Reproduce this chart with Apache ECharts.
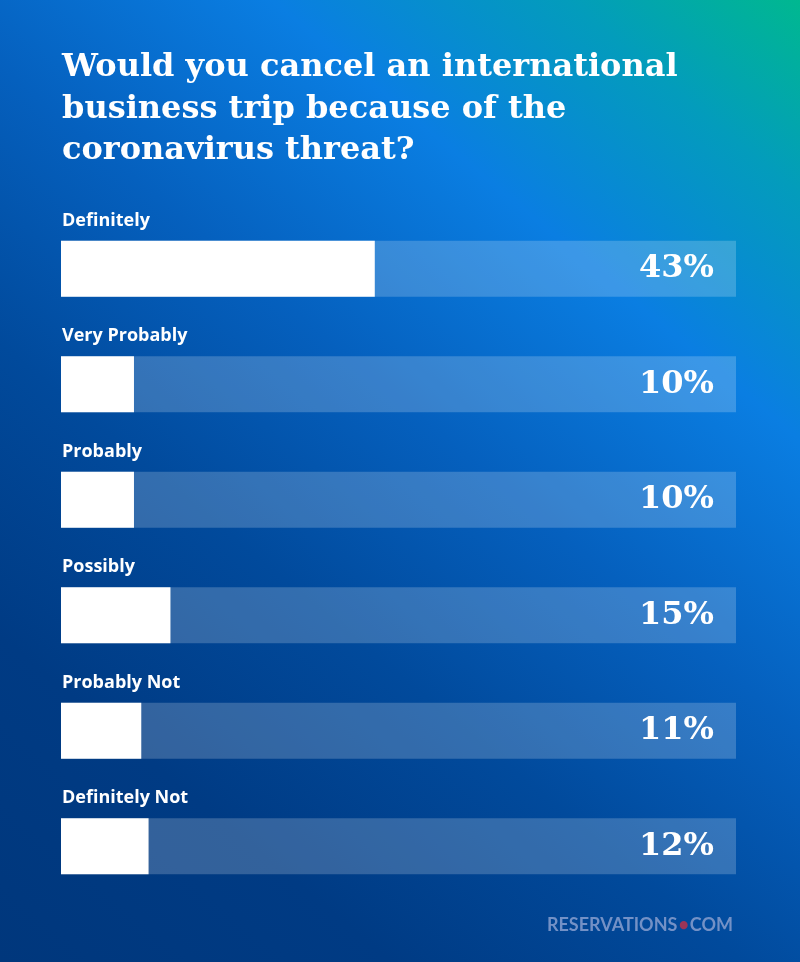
<!DOCTYPE html>
<html><head><meta charset="utf-8">
<script src="https://cdn.jsdelivr.net/npm/echarts@6/dist/echarts.min.js"></script>
<style>html,body{margin:0;padding:0;}#c{width:800px;height:962px;}</style>
</head><body><div id="c"></div>
<script>
const titleLines = ['Would you cancel an international', 'business trip because of the', 'coronavirus threat?'];
const categories = ['Definitely', 'Very Probably', 'Probably', 'Possibly', 'Probably Not', 'Definitely Not'];
const values = [43, 10, 10, 15, 11, 12];
const scaleMax = 92.5;
const trackValues = categories.map(() => scaleMax);
const brand = ['RESERVATIONS', 'COM'];

const chart = echarts.init(document.getElementById('c'), null, {renderer: 'canvas'});
chart.setOption({
  backgroundColor: {
    type: 'linear', x: 1, y: 0, x2: 0, y2: 1,
    colorStops: [
      {offset: 0, color: '#00b890'},
      {offset: 0.12, color: '#039cbc'},
      {offset: 0.27, color: '#0a7ee2'},
      {offset: 0.45, color: '#0560be'},
      {offset: 0.62, color: '#014a9c'},
      {offset: 0.8, color: '#003b84'},
      {offset: 1, color: '#00377c'}
    ]
  },
  animation: false,
  grid: {left: 61, right: 64, top: 211, bottom: 58, containLabel: false},
  xAxis: {type: 'value', min: 0, max: scaleMax, show: false},
  yAxis: {type: 'category', data: categories, inverse: true, show: false},
  graphic: [
    {type: 'text', left: 62, top: 47, style: {
      text: titleLines.join('\n'), fill: '#ffffff',
      font: 'bold 32px "DejaVu Serif", serif', lineHeight: 41.5
    }},
    {type: 'text', right: 67, top: 916, style: {
      rich: {
        a: {fill: '#7391c6', font: 'bold 18px Lato, sans-serif'},
        d: {fill: '#9b3558', font: 'bold 18px Lato, sans-serif', padding: [0, 1, 0, 1]}
      },
      text: '{a|' + brand[0] + '}{d|•}{a|' + brand[1] + '}'
    }}
  ],
  series: [
    {
      type: 'bar', data: trackValues, barWidth: 56, barGap: '-100%', silent: true,
      itemStyle: {color: 'rgba(255,255,255,0.2)'},
      label: {
        show: true, position: 'insideRight', distance: 22,
        formatter: p => values[p.dataIndex] + '%',
        color: '#ffffff', fontFamily: '"DejaVu Serif", serif', fontWeight: 'bold', fontSize: 32
      },
      z: 1
    },
    {
      type: 'bar', data: values, barWidth: 56, barGap: '-100%', silent: true,
      itemStyle: {color: '#ffffff'},
      label: {
        show: true, position: [1, -20], align: 'left', verticalAlign: 'middle',
        formatter: '{b}', color: '#ffffff', fontFamily: '"Open Sans", sans-serif', fontWeight: 'bold', fontSize: 18
      },
      z: 2
    }
  ]
});
</script></body></html>
